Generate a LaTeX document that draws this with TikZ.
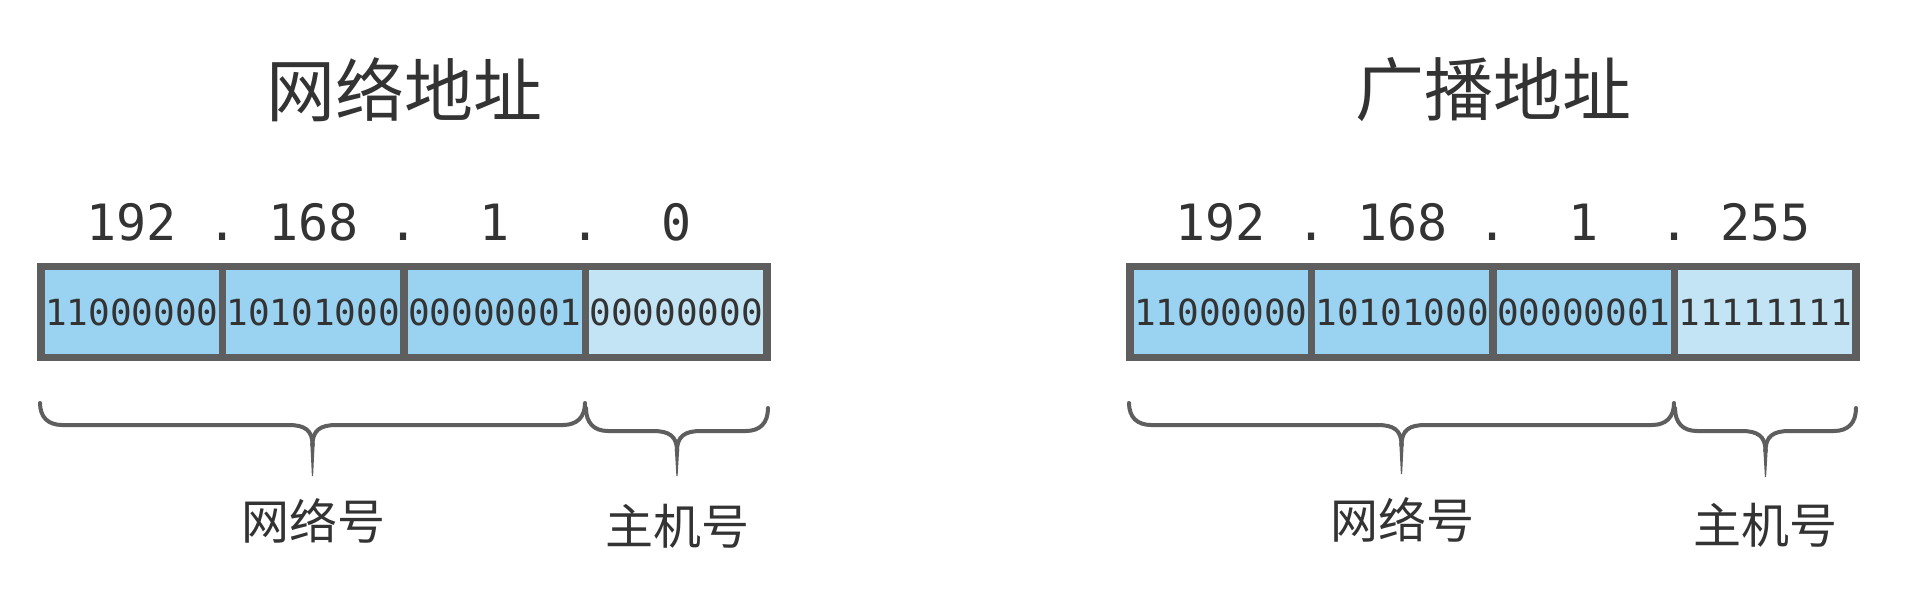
\documentclass[tikz,border=0pt]{standalone}
\usepackage{fontspec}
\newfontfamily\cjk{Noto Sans CJK SC}
\newfontfamily\monof{DejaVu Sans Mono}
\definecolor{txt}{HTML}{333333}
\definecolor{edge}{HTML}{5E5E5E}
\definecolor{cellA}{HTML}{9AD2F2}
\definecolor{cellB}{HTML}{C3E4F5}
\tikzset{
  title/.style={text=txt, inner sep=0pt, font=\cjk\fontsize{69}{80}\selectfont},
  label/.style={text=txt, inner sep=0pt, font=\cjk\fontsize{48}{56}\selectfont},
  num/.style={text=txt, inner sep=0pt, anchor=base, font=\monof\fontsize{50}{56}\selectfont},
  bin/.style={text=txt, inner sep=0pt, font=\monof\fontsize{36}{40}\selectfont,
    minimum width=181.5pt, minimum height=91pt, draw=edge, line width=7.5pt},
  netcell/.style={bin, fill=cellA},
  hostcell/.style={bin, fill=cellB},
  bracket/.style={draw=edge, line width=4pt, line cap=round},
  brtip/.style={fill=edge, draw=none}
}
\newcommand{\mybrace}[5]{% x1, x2, ytop, yh, ytip
  \pgfmathsetmacro{\xm}{(#1+#2)/2}
  \draw[bracket] (#1,#3) .. controls (#1,#4-8) and (#1+8,#4) .. (#1+22,#4)
     -- (\xm-24,#4) .. controls (\xm-8,#4) and (\xm,#4+5) .. (\xm,#4+20);
  \draw[bracket] (#2,#3) .. controls (#2,#4-8) and (#2-8,#4) .. (#2-22,#4)
     -- (\xm+24,#4) .. controls (\xm+8,#4) and (\xm,#4+5) .. (\xm,#4+20);
  \fill[brtip] (\xm-2.2,#4+18) -- (\xm+2.2,#4+18) -- (\xm+0.6,#5) -- (\xm-0.6,#5) -- cycle;
}
\begin{document}
\begin{tikzpicture}[x=1pt,y=-1pt]
\useasboundingbox[fill=white] (0,0) rectangle (1912,602);

% ---------- left: network address ----------
\node[title] (t1) at (404,90) {网络地址};
\node[netcell]  (a1) at (131.75,312) {11000000};
\node[netcell]  (a2) at (313.25,312) {10101000};
\node[netcell]  (a3) at (494.75,312) {00000001};
\node[hostcell] (a4) at (676.25,312) {00000000};
\node[num] (n1) at (131.75,240) {192};
\node[num] (d1) at (222.5,240) {.};
\node[num] (n2) at (313.25,240) {168};
\node[num] (d2) at (404,240) {.};
\node[num] (n3) at (494.75,240) {1};
\node[num] (d3) at (585.5,240) {.};
\node[num] (n4) at (676.25,240) {0};
\mybrace{40}{585}{403}{425}{476}
\mybrace{586}{768}{408}{431}{476}
\node[label] (l1) at (313,521) {网络号};
\node[label] (l2) at (677,526) {主机号};

% ---------- right: broadcast address ----------
\node[title] (t2) at (1493,90) {广播地址};
\node[netcell]  (b1) at (1220.75,312) {11000000};
\node[netcell]  (b2) at (1402.25,312) {10101000};
\node[netcell]  (b3) at (1583.75,312) {00000001};
\node[hostcell] (b4) at (1765.25,312) {11111111};
\node[num] (m1) at (1220.75,240) {192};
\node[num] (e1) at (1311.5,240) {.};
\node[num] (m2) at (1402.25,240) {168};
\node[num] (e2) at (1493,240) {.};
\node[num] (m3) at (1583.75,240) {1};
\node[num] (e3) at (1674.5,240) {.};
\node[num] (m4) at (1765.25,240) {255};
\mybrace{1129}{1674}{403}{425}{474}
\mybrace{1675}{1856}{408}{431}{477}
\node[label] (r1) at (1402,520) {网络号};
\node[label] (r2) at (1765,525) {主机号};
\end{tikzpicture}
\end{document}
